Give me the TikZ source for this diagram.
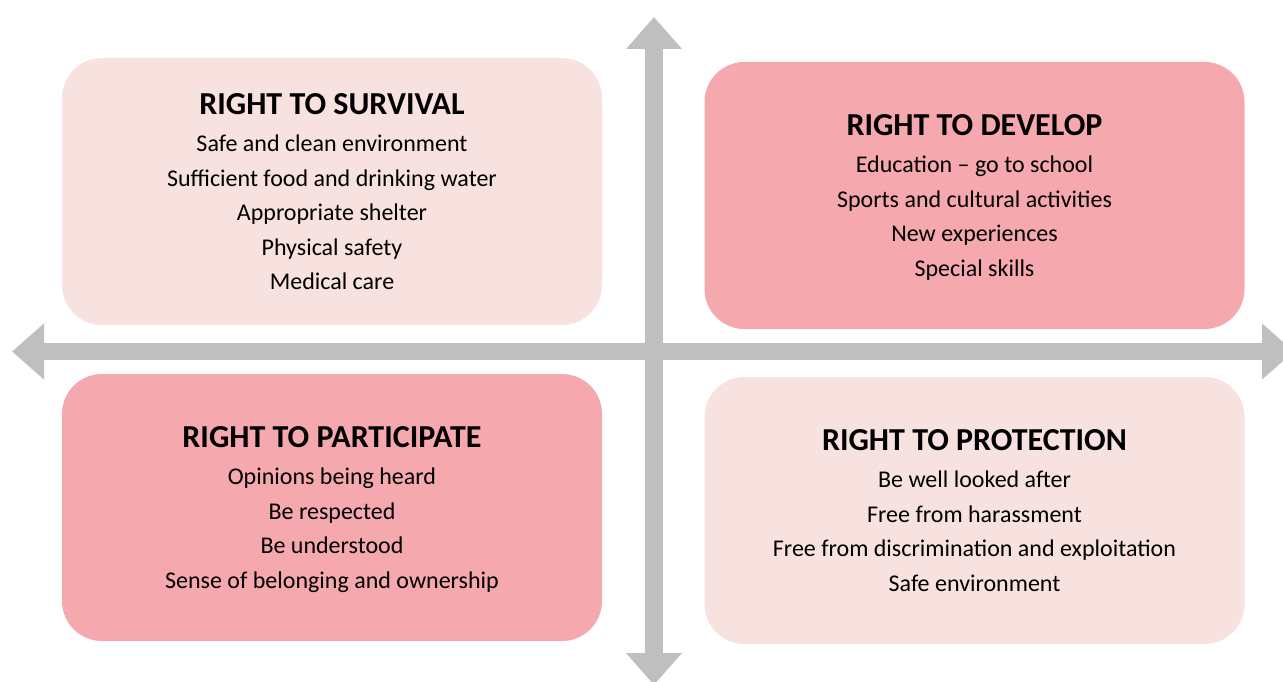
\documentclass[tikz,border=0pt]{standalone}
\usepackage{fontspec}
\setmainfont{Carlito}
\usetikzlibrary{arrows.meta,positioning}
\definecolor{lightrose}{HTML}{F8E2E0}
\definecolor{darkrose}{HTML}{F5A8AD}
\definecolor{axisgray}{HTML}{BFBFBF}
\tikzset{quad/.style={rounded corners=40pt, minimum width=540pt, minimum height=267pt, align=center, inner sep=0pt,
        text depth=0pt, font=\fontsize{24}{34.5}\selectfont},
    axis/.style={draw=axisgray, line width=18pt, {Triangle[width=54pt,length=32pt]}-{Triangle[width=54pt,length=32pt]}}}
\newcommand{\hd}[1]{{\fontsize{32}{38}\selectfont\bfseries #1}\\[3pt]}

\begin{document}
\begin{tikzpicture}[x=1pt,y=-1pt]
        \useasboundingbox (0,0) rectangle (1283,682);
        % axes
        \coordinate (top) at (654,17);
        \coordinate (bottom) at (654,685);
        \coordinate (left) at (12,351.5);
        \coordinate (right) at (1294,351.5);
        \draw[axis] (top) -- (bottom);
        \draw[axis, line width=17pt] (left) -- (right);
        % quadrants
        \node[quad, fill=lightrose] (survival) at (332,191.5) {
            \hd{RIGHT TO SURVIVAL}
            Safe and clean environment\\
            Sufficient food and drinking water\\
            Appropriate shelter\\
            Physical safety\\
            Medical care
        };
        \node[quad, fill=darkrose] (develop) at (974.5,195.5) {
            \hd{RIGHT TO DEVELOP}
            Education – go to school\\
            Sports and cultural activities\\
            New experiences\\
            Special skills
        };
        \node[quad, fill=darkrose] (participate) at (332,507.5) {
            \hd{RIGHT TO PARTICIPATE}
            Opinions being heard\\
            Be respected\\
            Be understood\\
            Sense of belonging and ownership
        };
        \node[quad, fill=lightrose] (protection) at (974.5,510.5) {
            \hd{RIGHT TO PROTECTION}
            Be well looked after\\
            Free from harassment\\
            Free from discrimination and exploitation\\
            Safe environment
        };
    \end{tikzpicture}
\end{document}
